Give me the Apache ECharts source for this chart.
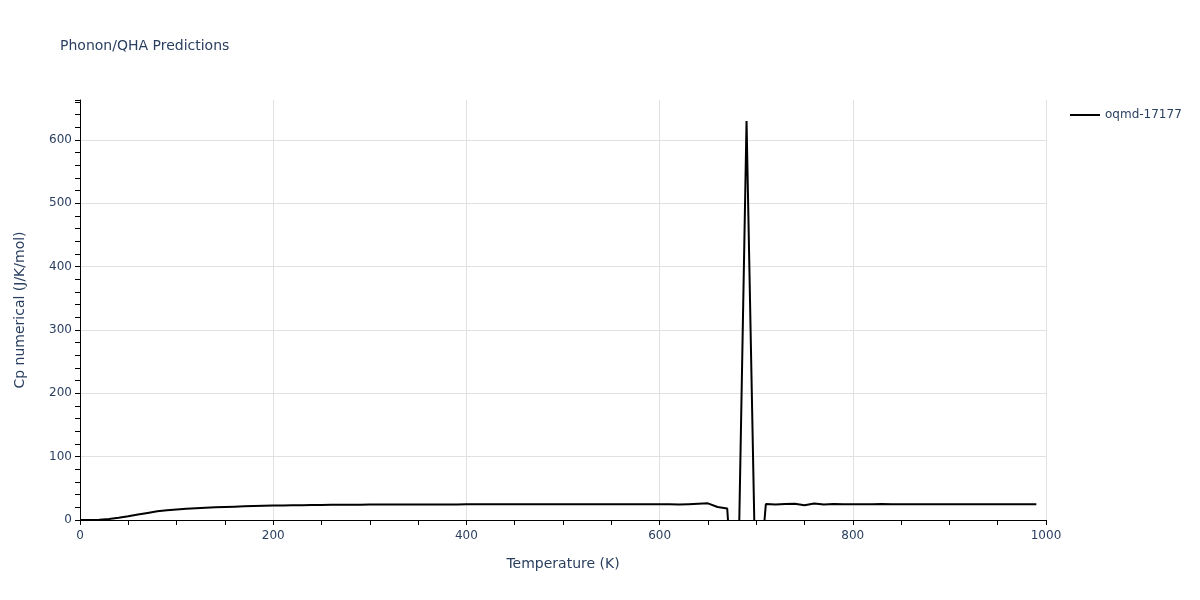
<!DOCTYPE html>
<html>
<head>
<meta charset="utf-8">
<script src="https://cdn.jsdelivr.net/npm/echarts@6/dist/echarts.min.js"></script>
<style>html,body{margin:0;padding:0;background:#fff}#c{width:1200px;height:600px}</style>
</head>
<body>
<div id="c"></div>
<script>
const seriesName = 'oqmd-17177';
const temperatures = [0,10,20,30,40,50,60,70,80,90,100,110,120,130,140,150,160,170,180,190,200,210,220,230,240,250,260,270,280,290,300,310,320,330,340,350,360,370,380,390,400,410,420,430,440,450,460,470,480,490,500,510,520,530,540,550,560,570,580,590,600,610,620,630,640,650,660,670,680,690,700,710,720,730,740,750,760,770,780,790,800,810,820,830,840,850,860,870,880,890,900,910,920,930,940,950,960,970,980,990];
const cpValues = [0,0,0.3,1.5,3.5,6,8.6,11.2,13.8,15.3,16.5,17.6,18.6,19.4,20,20.6,21.1,21.6,22,22.4,22.8,23,23.2,23.4,23.6,23.8,23.9,24,24.1,24.2,24.3,24.4,24.4,24.5,24.5,24.5,24.6,24.6,24.6,24.6,24.7,24.7,24.7,24.7,24.7,24.8,24.8,24.8,24.8,24.8,24.8,24.8,24.8,24.8,24.8,24.9,24.9,24.9,24.9,24.9,24.9,24.9,24.3,25.0,25.7,26.3,20.5,18,-210,630,-157,25.2,24.6,25.1,25.6,23.2,26.0,24.3,25.3,24.9,24.9,24.9,25,25.3,24.8,24.8,24.8,24.9,24.9,25,25,25,25,25,25,25,25,25,25,25];
const xTickLabels = [0,200,400,600,800,1000];
const yTickLabels = [0,100,200,300,400,500,600];

const txt = '#2a3f5f';
const font = 'DejaVu Sans';
const chart = echarts.init(document.getElementById('c'), null, {renderer:'canvas'});
chart.setOption({
  animation:false,
  backgroundColor:'#fff',
  textStyle:{fontFamily:font},
  title:{text:'Phonon/QHA Predictions', left:55, top:34, textStyle:{fontFamily:font, fontSize:14, fontWeight:'normal', color:txt}},
  legend:{data:[{name:seriesName, icon:'rect'}], left:1065, top:104, itemWidth:30, itemHeight:2, itemGap:5,
    textStyle:{fontFamily:font, fontSize:12, color:txt, padding:[0,0,0,0]}},
  grid:{left:80, right:154, top:100, bottom:80, containLabel:false},
  xAxis:{type:'value', min:0, max:1000, interval:200,
    name:'Temperature (K)', nameLocation:'middle', nameGap:37,
    nameTextStyle:{fontFamily:font, fontSize:14, color:txt},
    axisLine:{show:true, onZero:false, lineStyle:{color:'#000', width:1}},
    axisTick:{show:true, length:5, lineStyle:{color:'#000'}},
    minorTick:{show:true, splitNumber:4, length:5, lineStyle:{color:'#000'}},
    axisLabel:{fontFamily:font, fontSize:12, color:txt, margin:10,
      formatter:v => xTickLabels.includes(v) ? String(v) : ''},
    splitLine:{show:true, lineStyle:{color:'#e1e1e1', width:1}}},
  yAxis:[{type:'value', min:0, max:663, interval:100,
    name:'Cp numerical (J/K/mol)', nameLocation:'middle', nameGap:53,
    nameTextStyle:{fontFamily:font, fontSize:14, color:txt},
    axisLine:{show:true, onZero:false, lineStyle:{color:'#000', width:1}},
    axisTick:{show:false},
    axisLabel:{fontFamily:font, fontSize:12, color:txt, margin:8, showMaxLabel:false,
      formatter:v => yTickLabels.includes(v) ? String(v) : ''},
    splitLine:{show:true, showMinLine:false, showMaxLine:false, lineStyle:{color:'#e1e1e1', width:1}}},
   {type:'value', min:0, max:663, interval:20, position:'left',
    axisLine:{show:false}, axisLabel:{show:false}, splitLine:{show:false},
    axisTick:{show:true, length:5, lineStyle:{color:'#000'}}}],
  series:[{name:seriesName, type:'line', data:temperatures.map((t,i)=>[t,cpValues[i]]),
    symbol:'none', showSymbol:false, clip:true, color:'#000',
    lineStyle:{color:'#000', width:2}}]
});
</script>
</body>
</html>
